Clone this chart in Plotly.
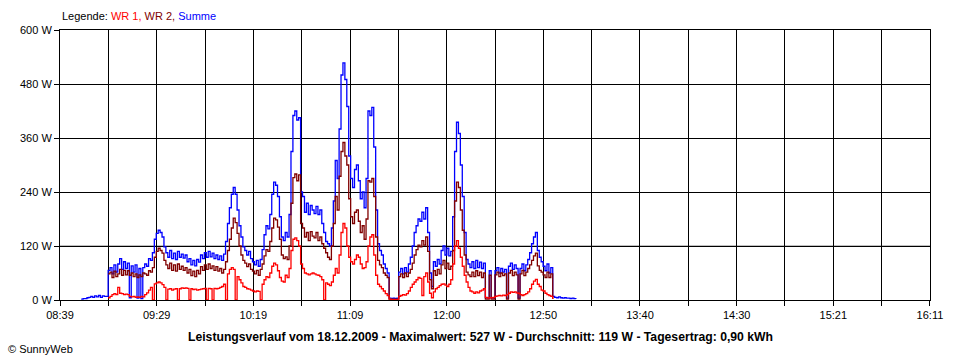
import plotly.graph_objects as go

# ---- data (1-minute samples starting 08:50) ----
start_minute = 8 * 60 + 50
summe = [
    2, 3, 3, 5, 6, 8, 6, 9, 7, 10,
    6, 9, 8, 8, 66, 72, 58, 78, 62, 80,
    92, 68, 85, 70, 82, 5, 76, 62, 78, 4,
    70, 3, 72, 80, 75, 92, 88, 105, 135, 148,
    155, 150, 140, 118, 105, 95, 110, 92, 104, 90,
    108, 95, 102, 93, 100, 85, 92, 78, 88, 76,
    90, 84, 100, 92, 105, 95, 108, 96, 104, 92,
    100, 90, 98, 88, 102, 130, 170, 205, 235, 250,
    235, 200, 165, 140, 118, 110, 100, 108, 92, 85,
    78, 88, 75, 90, 112, 145, 165, 158, 190, 235,
    262, 255, 230, 185, 140, 132, 150, 140, 190, 330,
    410, 420, 400, 405, 240, 230, 195, 215, 190, 210,
    200, 192, 208, 190, 200, 170, 150, 130, 125, 120,
    160, 220, 310, 270, 380, 500, 527, 490, 430, 320,
    270, 250, 290, 300, 265, 225, 240, 205, 270, 420,
    410, 428, 340, 200, 125, 110, 100, 80, 70, 60,
    4, 3, 4, 3, 4, 62, 70, 58, 72, 62,
    80, 95, 120, 150, 165, 180, 175, 195, 180, 205,
    150, 60, 30, 85, 75, 90, 80, 110, 120, 100,
    115, 98, 108, 185, 330, 395, 370, 300, 230, 150,
    90, 80, 72, 85, 70, 88, 72, 84, 70, 82,
    5, 4, 65, 4, 4, 65, 72, 60, 70, 62,
    68, 4, 75, 82, 68, 78, 70, 4, 70, 80,
    65, 78, 90, 105, 125, 140, 150, 110, 95, 85,
    75, 65, 80, 60, 72, 8, 6, 5, 7, 5,
    4, 5, 4, 4, 3, 4, 3, 2,
]
wr1 = [None] * 14 + [
    5, 8, 12, 14, 12, 28,
    15, 14, 12, 13, 12, 8, 7, 8, 6, 7,
    6, 8, 7, 12, 16, 22, 28, 0, 36, 38,
    40, 38, 34, 28, 0, 24, 25, 22, 24, 25,
    0, 25, 27, 26, 27, 26, 0, 25, 23, 24,
    22, 23, 24, 25, 26, 0, 26, 25, 0, 26,
    25, 26, 28, 30, 35, 0, 58, 68, 72, 68,
    0, 52, 45, 38, 30, 28, 25, 24, 22, 20,
    18, 20, 19, 0, 35, 45, 52, 50, 60, 75,
    82, 78, 65, 50, 42, 40, 55, 50, 70, 110,
    135, 138, 132, 120, 80, 70, 60, 58, 56, 58,
    60, 58, 56, 55, 52, 45, 0, 38, 35, 32,
    40, 55, 70, 60, 100, 150, 170, 160, 120, 95,
    85, 80, 90, 100, 95, 80, 70, 72, 85, 120,
    140, 145, 100, 55, 35, 30, 25, 20, 14, 10,
    2, 1, 1, 1, 1, 8, 10, 12, 11, 14,
    20, 28, 35, 40, 45, 50, 48, 10, 52, 60,
    40, 15, 5, 18, 25, 28, 32, 35, 36, 33,
    30, 35, 45, 80, 120, 132, 115, 95, 75, 55,
    40, 28, 20, 18, 15, 18, 16, 20, 22, 25,
    6, 4, 5, 5, 6, 8, 9, 10, 9, 11,
    10, 12, 15, 18, 17, 18, 16, 15, 12, 10,
    12, 14, 18, 25, 35, 42, 46, 35, 30, 22,
    20, 15, 12, 10, 8, 2,
] + [None] * 12
wr2 = [None] * 14 + [
    58, 62, 50, 64, 52, 58,
    68, 55, 66, 56, 65, 55, 60, 52, 58, 50,
    56, 52, 60, 58, 55, 65, 62, 72, 95, 108,
    115, 110, 104, 88, 78, 70, 82, 66, 78, 64,
    80, 68, 75, 66, 72, 60, 68, 54, 64, 52,
    66, 58, 74, 66, 78, 68, 80, 70, 76, 66,
    74, 64, 70, 60, 68, 85, 110, 135, 160, 182,
    172, 148, 120, 100, 88, 82, 74, 80, 68, 64,
    58, 66, 55, 68, 80, 98, 112, 108, 130, 160,
    182, 178, 162, 135, 100, 92, 96, 90, 120, 215,
    272, 280, 265, 278, 170, 160, 140, 150, 132, 152,
    142, 138, 150, 132, 140, 125, 115, 105, 95, 90,
    120, 170, 230, 200, 275, 330, 350, 320, 300, 225,
    185, 170, 195, 200, 175, 150, 165, 135, 180, 265,
    262, 270, 230, 140, 88, 78, 72, 60, 55, 50,
    2, 2, 2, 2, 2, 52, 58, 50, 60, 52,
    60, 68, 82, 100, 112, 122, 118, 132, 122, 140,
    108, 45, 25, 65, 55, 68, 58, 78, 88, 70,
    82, 68, 75, 110, 220, 262, 250, 200, 155, 100,
    62, 56, 52, 62, 52, 65, 54, 62, 50, 60,
    2, 2, 55, 2, 2, 56, 62, 52, 60, 54,
    58, 2, 60, 66, 54, 62, 56, 2, 58, 66,
    54, 62, 70, 78, 88, 98, 104, 76, 66, 62,
    56, 50, 62, 50, 58, 2,
] + [None] * 12

x_labels = ["08:39", "", "09:29", "", "10:19", "", "11:09", "", "12:00", "",
            "12:50", "", "13:40", "", "14:30", "", "15:21", "", "16:11"]
axis_start = 8 * 60 + 39
axis_end = 16 * 60 + 11
y_ticks = [0, 120, 240, 360, 480, 600]
y_labels = [f"{v} W" for v in y_ticks]

minutes = [start_minute + i for i in range(len(summe))]
n_int = len(x_labels) - 1
x_ticks = [axis_start + k * (axis_end - axis_start) / n_int for k in range(len(x_labels))]

FONT = "Liberation Sans, Arial, sans-serif"
LW = 1.3

fig = go.Figure()
fig.add_trace(go.Scatter(x=minutes, y=summe, mode="lines", name="Summe",
                         line=dict(color="#0000ff", width=LW, shape="hv"), connectgaps=False))
fig.add_trace(go.Scatter(x=minutes, y=wr2, mode="lines", name="WR 2",
                         line=dict(color="#800000", width=LW, shape="hv"), connectgaps=False))
fig.add_trace(go.Scatter(x=minutes, y=wr1, mode="lines", name="WR 1",
                         line=dict(color="#ff0000", width=LW, shape="hv"), connectgaps=False))

fig.update_layout(
    width=960, height=360,
    margin=dict(l=60, r=30, t=30, b=60),
    paper_bgcolor="white", plot_bgcolor="white",
    showlegend=False,
    font=dict(family=FONT, size=11, color="black"),
    xaxis=dict(range=[axis_start - 0.01, axis_end + 0.01], tickmode="array",
               tickvals=x_ticks, ticktext=x_labels,
               showgrid=True, gridcolor="black", gridwidth=1,
               ticks="outside", ticklen=5, tickcolor="black", tickwidth=1,
               showline=True, linecolor="black", linewidth=1, mirror=True,
               zeroline=False, tickfont=dict(family=FONT, size=11)),
    yaxis=dict(range=[0, 600], tickmode="array", tickvals=y_ticks, ticktext=y_labels,
               showgrid=True, gridcolor="black", gridwidth=1,
               ticks="outside", ticklen=5, tickcolor="black", tickwidth=1,
               showline=True, linecolor="black", linewidth=1, mirror=True,
               zeroline=False, tickfont=dict(family=FONT, size=11)),
    shapes=[dict(type="line", xref="paper", yref="y", x0=0, x1=1, y0=120, y1=120,
                 line=dict(color="#808080", width=1), layer="between")],
    annotations=[
        dict(xref="paper", yref="paper", x=0, y=1, yshift=14, xanchor="left", yanchor="middle",
             showarrow=False, font=dict(family=FONT, size=11),
             text="Legende: <span style='color:#ff0000'>WR 1,</span> "
                  "<span style='color:#800000'>WR 2,</span> "
                  "<span style='color:#0000ff'>Summe</span>"),
        dict(xref="paper", yref="paper", x=0.4828, y=0, yshift=-37, xanchor="center", yanchor="middle",
             showarrow=False, font=dict(family=FONT, size=12.2, color="black"),
             text="<b>Leistungsverlauf vom 18.12.2009 - Maximalwert: 527 W - Durchschnitt: 119 W - Tagesertrag: 0,90 kWh</b>"),
        dict(xref="paper", yref="paper", x=-0.0621, y=0, yshift=-49, xanchor="left", yanchor="middle",
             showarrow=False, font=dict(family=FONT, size=11),
             text="© SunnyWeb"),
    ],
)

fig.write_html("out.html", config={"displayModeBar": False},
               post_script="document.body.style.margin='0';document.body.style.padding='0';")
